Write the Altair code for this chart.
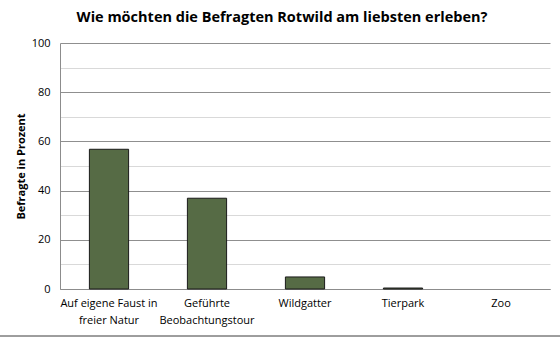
import altair as alt
import pandas as pd

categories = ["Auf eigene Faust in|freier Natur", "Geführte|Beobachtungstour", "Wildgatter", "Tierpark", "Zoo"]
values = [56.8, 36.9, 4.9, 0.4, 0.0]

df = pd.DataFrame({"cat": categories, "val": values})

W, H = 490, 246
FONT = "Open Sans"

bars = alt.Chart(df).mark_bar(color="#566B45", stroke="#1a1a1a").encode(
    x=alt.X("cat:N", sort=categories, title=None,
            scale=alt.Scale(paddingInner=0.6, paddingOuter=0.3),
            axis=alt.Axis(labelAngle=0, labelExpr="split(datum.label, '|')",
                          ticks=False, domain=True, domainColor="#8c8c8c",
                          labelFont=FONT, labelFontSize=11, labelColor="#000000",
                          labelPadding=8, labelLineHeight=17)),
    y=alt.Y("val:Q", title="Befragte in Prozent",
            scale=alt.Scale(domain=[0, 100], nice=False),
            axis=alt.Axis(values=list(range(0, 101, 10)),
                          labelExpr="datum.value % 20 == 0 ? datum.label : ''",
                          ticks=False, domain=True, domainColor="#8c8c8c",
                          grid=True,
                          gridColor=alt.condition("datum.value % 20 == 0", alt.value("#8f8f8f"), alt.value("#d9d9d9")),
                          labelFont=FONT, labelFontSize=11, labelColor="#000000",
                          labelPadding=10,
                          titleFont=FONT, titleFontSize=11, titleFontWeight="bold",
                          titleColor="#000000", titlePadding=5)),
    strokeWidth=alt.condition("datum.val > 0", alt.value(1), alt.value(0)),
)

border = alt.Chart(df).mark_rule(color="#9a9a9a", strokeWidth=1).encode(
    x=alt.value(-60), x2=alt.value(W + 10), y=alt.value(H + 47)
)

chart = alt.layer(bars, border).properties(
    width=W, height=H,
    title=alt.TitleParams("Wie möchten die Befragten Rotwild am liebsten erleben?",
                          font=FONT, fontSize=14.5, fontWeight="bold", color="#000000",
                          anchor="middle", dx=-23, offset=12),
    padding={"left": 60, "top": 43, "right": 10, "bottom": 48},
    autosize=alt.AutoSizeParams(type="none"),
    background="white",
).configure_view(stroke=None)

chart.save("out.html", embed_options={"renderer": "svg", "actions": False})
